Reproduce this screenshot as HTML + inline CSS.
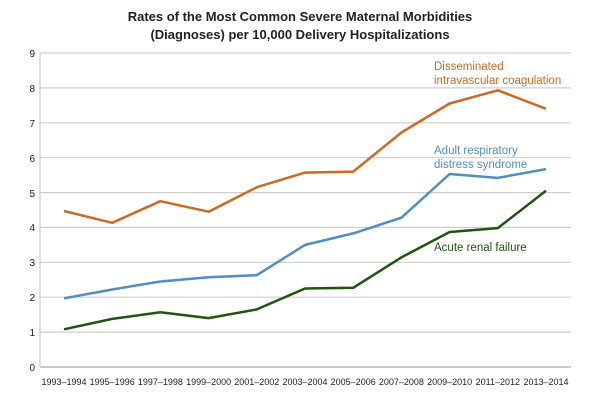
<!DOCTYPE html>
<html><head><style>body{margin:0;background:#fff}</style></head><body>
<svg width="600" height="400" xmlns="http://www.w3.org/2000/svg" font-family="Liberation Sans, sans-serif">
<rect width="600" height="400" fill="#fff"/>
<text x="300" y="21" text-anchor="middle" font-size="13" font-weight="bold" fill="#222">Rates of the Most Common Severe Maternal Morbidities</text>
<text x="300" y="39" text-anchor="middle" font-size="13" font-weight="bold" fill="#222">(Diagnoses) per 10,000 Delivery Hospitalizations</text>
<g stroke="#cfcfcf" stroke-width="1.2">
<line x1="40" x2="571" y1="53" y2="53"/><line x1="40" x2="571" y1="87.9" y2="87.9"/><line x1="40" x2="571" y1="122.8" y2="122.8"/><line x1="40" x2="571" y1="157.7" y2="157.7"/><line x1="40" x2="571" y1="192.6" y2="192.6"/><line x1="40" x2="571" y1="227.4" y2="227.4"/><line x1="40" x2="571" y1="262.3" y2="262.3"/><line x1="40" x2="571" y1="297.2" y2="297.2"/><line x1="40" x2="571" y1="332.1" y2="332.1"/>
</g>
<line x1="40" x2="571" y1="367" y2="367" stroke="#aaa" stroke-width="1.2"/>
<line x1="40" x2="40" y1="53" y2="367" stroke="#ccc" stroke-width="1.2"/>
<g font-size="10" fill="#222" text-anchor="end">
<text x="35" y="57">9</text><text x="35" y="92">8</text><text x="35" y="127">7</text><text x="35" y="162">6</text><text x="35" y="197">5</text><text x="35" y="231">4</text><text x="35" y="266">3</text><text x="35" y="301">2</text><text x="35" y="336">1</text><text x="35" y="371">0</text>
</g>
<g font-size="9" fill="#222" text-anchor="middle">
<text x="64" y="385">1993–1994</text><text x="112.2" y="385">1995–1996</text><text x="160.4" y="385">1997–1998</text><text x="208.6" y="385">1999–2000</text><text x="256.8" y="385">2001–2002</text><text x="305" y="385">2003–2004</text><text x="353.2" y="385">2005–2006</text><text x="401.4" y="385">2007–2008</text><text x="449.6" y="385">2009–2010</text><text x="497.8" y="385">2011–2012</text><text x="546" y="385">2013–2014</text>
</g>
<g fill="none" stroke-width="2.5" stroke-linejoin="round">
<polyline stroke="#cd6a1f" points="64,211 112.2,222.8 160.4,201.2 208.6,211.7 256.8,187.2 305,172.6 353.2,171.6 401.4,132.5 449.6,103.5 497.8,90.3 546,108.8"/>
<polyline stroke="#4c90c3" points="64,298.3 112.2,289.5 160.4,281.5 208.6,277.3 256.8,275.2 305,244.9 353.2,233.4 401.4,217.7 449.6,174 497.8,177.9 546,169.1"/>
<polyline stroke="#1f5510" points="64,329.3 112.2,318.9 160.4,312.2 208.6,318.1 256.8,309.4 305,288.5 353.2,287.8 401.4,257.4 449.6,232 497.8,228.1 546,190.8"/>
</g>
<g font-size="11.5">
<text x="434" y="70" fill="#cd6a1f">Disseminated</text><text x="434" y="84" fill="#cd6a1f">intravascular coagulation</text>
<text x="434" y="154" fill="#4c90c3">Adult respiratory</text><text x="434" y="168" fill="#4c90c3">distress syndrome</text>
<text x="434" y="251" fill="#1f5510">Acute renal failure</text>
</g>
</svg>
</body></html>
